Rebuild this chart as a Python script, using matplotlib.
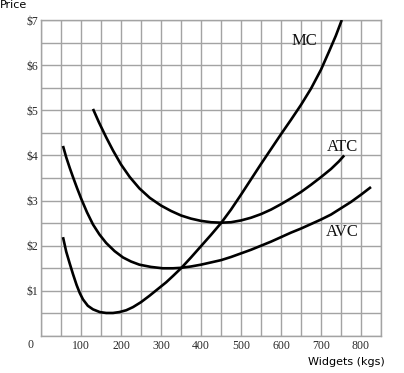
import matplotlib
matplotlib.use("Agg")
import matplotlib.pyplot as plt
from matplotlib.ticker import MultipleLocator

# courbes (quantité, prix)
mc_x = [55, 63, 72, 80, 89, 97, 105, 117, 130, 147, 163, 180, 196, 213, 230, 250, 271, 292,
        313, 330, 350, 375, 400, 425, 450, 475, 500, 525, 550, 575, 600, 625, 650, 675, 700,
        720, 737, 752]
mc_y = [2.19, 1.87, 1.60, 1.37, 1.13, 0.95, 0.81, 0.67, 0.59, 0.53, 0.51, 0.51, 0.53, 0.57,
        0.64, 0.75, 0.89, 1.04, 1.19, 1.33, 1.50, 1.74, 1.99, 2.24, 2.50, 2.80, 3.13, 3.47,
        3.81, 4.14, 4.47, 4.79, 5.12, 5.48, 5.90, 6.30, 6.65, 7.00]

atc_x = [130, 145, 163, 180, 200, 222, 246, 272, 300, 325, 350, 375, 400, 425, 450, 475, 500,
         525, 550, 575, 600, 625, 650, 675, 700, 725, 745, 758]
atc_y = [5.03, 4.73, 4.40, 4.11, 3.80, 3.52, 3.27, 3.06, 2.89, 2.77, 2.67, 2.60, 2.55, 2.52,
         2.51, 2.52, 2.56, 2.62, 2.70, 2.80, 2.92, 3.05, 3.19, 3.35, 3.52, 3.70, 3.87, 4.00]

avc_x = [55, 63, 72, 80, 90, 101, 115, 130, 146, 163, 184, 205, 225, 246, 275, 304, 330, 350,
         375, 400, 425, 450, 475, 500, 525, 550, 575, 600, 625, 650, 675, 700, 725, 750, 775,
         800, 825]
avc_y = [4.21, 3.96, 3.72, 3.52, 3.28, 3.03, 2.74, 2.47, 2.25, 2.06, 1.88, 1.74, 1.65, 1.58,
         1.53, 1.50, 1.50, 1.51, 1.54, 1.58, 1.63, 1.68, 1.75, 1.83, 1.91, 2.00, 2.09, 2.19,
         2.29, 2.38, 2.48, 2.58, 2.69, 2.83, 2.97, 3.13, 3.30]

x_ticks = [100, 200, 300, 400, 500, 600, 700, 800]
y_ticks = [1, 2, 3, 4, 5, 6, 7]
y_labels = ["$1", "$2", "$3", "$4", "$5", "$6", "$7"]

# étiquettes des courbes
curve_labels = ["MC", "ATC", "AVC"]
label_pos = [(659, 6.54), (754, 4.19), (754, 2.31)]

fig = plt.figure(figsize=(4.04, 3.73), dpi=100)
ax = fig.add_axes([41 / 404, 37 / 373, 340 / 404, 316 / 373])

grid_col = "#a3a3a3"
ax.set_xlim(0, 850)
ax.set_ylim(0, 7)
ax.xaxis.set_major_locator(plt.FixedLocator(x_ticks))
ax.xaxis.set_minor_locator(MultipleLocator(50))
ax.yaxis.set_major_locator(plt.FixedLocator(y_ticks))
ax.yaxis.set_minor_locator(MultipleLocator(0.5))
ax.set_yticklabels(y_labels)
ax.grid(True, which="both", color=grid_col, linewidth=1.0)
ax.tick_params(which="both", length=0)
ax.tick_params(axis="x", pad=3)
ax.tick_params(axis="y", pad=2)
for lab in ax.get_xticklabels() + ax.get_yticklabels():
    lab.set_fontfamily("Liberation Serif")
    lab.set_fontsize(8.5)
    lab.set_color("#2a2a2a")
for sp in ax.spines.values():
    sp.set_color(grid_col)
    sp.set_linewidth(1.0)

for xs, ys in [(mc_x, mc_y), (atc_x, atc_y), (avc_x, avc_y)]:
    ax.plot(xs, ys, color="black", linewidth=1.9, solid_capstyle="butt",
            solid_joinstyle="round", zorder=3)

for name, (lx, ly) in zip(curve_labels, label_pos):
    ax.text(lx, ly, name, ha="center", va="center", fontsize=12,
            family="Liberation Serif", color="#111111", zorder=4)

fig.text(30.5 / 404, 1 - 344.5 / 373, "0", ha="center", va="center",
         fontsize=8.5, family="Liberation Serif", color="#2a2a2a")
fig.text(0.0, 1.0, "Price", ha="left", va="top", fontsize=8, family="DejaVu Sans")
fig.text(346.5 / 404, 1 - 362 / 373, "Widgets (kgs)", ha="center", va="center",
         fontsize=8, family="DejaVu Sans")

fig.savefig("out.png", dpi=100)
